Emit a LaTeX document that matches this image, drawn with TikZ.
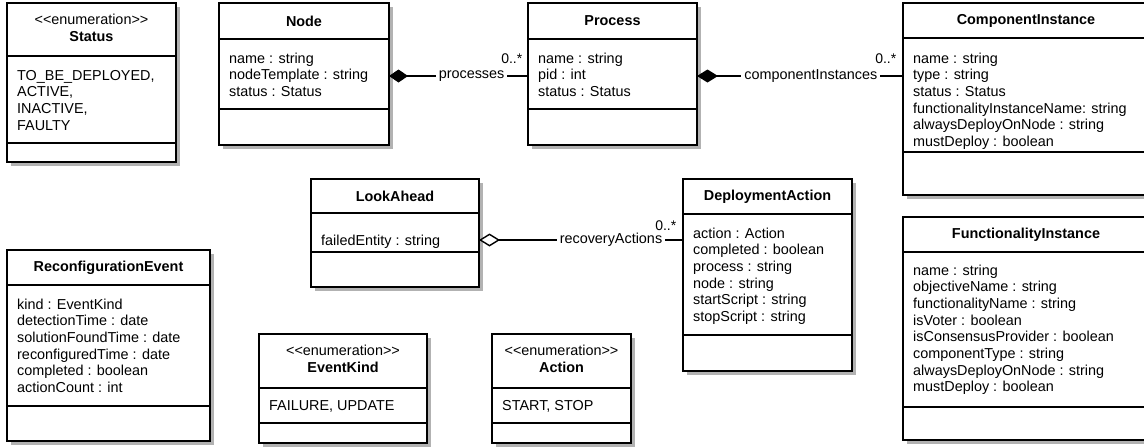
\documentclass[tikz,border=0pt]{standalone}
\usepackage{fontspec}
\setmainfont{Liberation Sans}
\usetikzlibrary{arrows.meta}
\newcommand{\umlframe}[7]{%
  \fill[shadowfill] (#2+4,#3+4) rectangle (#4+4,#5+4);
  \node[classbox, minimum width={(#4-#2)*1pt}, minimum height={(#5-#3)*1pt}] (#1) at ({(#2+#4)/2},{(#3+#5)/2}) {};
  \draw[divider] (#2,#6) -- (#4,#6);
  \draw[divider] (#2,#7) -- (#4,#7);
}
\newcommand{\attrs}[1]{\begin{tabular}[t]{@{}l@{}}#1\end{tabular}}
\newcommand{\enumtitle}[1]{\begin{tabular}{@{}c@{}}{\mdseries <\kern0pt<enumeration>\kern0pt>}\\#1\end{tabular}}
\tikzset{
  shadowfill/.style={fill=black!30},
  classbox/.style={draw=black, line width=2pt, fill=white, rectangle, inner sep=0pt, outer sep=0pt},
  divider/.style={draw=black, line width=2pt},
  titletext/.style={inner sep=0pt, font=\fontsize{14.4}{16.7}\selectfont\bfseries, align=center},
  attrtext/.style={inner sep=0pt, anchor=base west, font=\fontsize{14.4}{16.7}\selectfont},
  assoc/.style={draw=black, line width=1.4pt},
  lbl/.style={fill=white, inner xsep=3pt, inner ysep=1pt, font=\fontsize{14.4}{16.7}\selectfont},
  mult/.style={inner sep=0pt, anchor=base east, font=\fontsize{14}{16}\selectfont},
}
\begin{document}
\begin{tikzpicture}[x=1pt,y=-1pt]
\useasboundingbox (0,0) rectangle (1144,447);
\clip (0,0) rectangle (1144,447);

% Status
\umlframe{status}{7}{3}{176}{162}{56}{143}
\node[titletext] (status-t) at (91.5,29.5) {\enumtitle{Status}};
\node[attrtext] (status-a) at (17,80) {\attrs{TO\_BE\_DEPLOYED,\\ACTIVE,\\INACTIVE,\\FAULTY}};

% Node
\umlframe{nodebox}{219}{3}{389}{145}{39}{109}
\node[titletext] (node-t) at (304,21) {Node};
\node[attrtext] (node-a) at (229,63) {\attrs{name : string\\nodeTemplate : string\\status : Status}};

% Process
\umlframe{process}{528}{3}{697}{145}{39}{109}
\node[titletext] (process-t) at (612.5,21) {Process};
\node[attrtext] (process-a) at (538,63) {\attrs{name : string\\pid : int\\status : Status}};

% ComponentInstance
\umlframe{ci}{903}{3}{1149}{195}{38}{152}
\node[titletext] (ci-t) at (1026,20.5) {ComponentInstance};
\node[attrtext] (ci-a) at (913,63) {\attrs{name : string\\type : string\\status : Status\\functionalityInstanceName: string\\alwaysDeployOnNode : string\\mustDeploy : boolean}};

% FunctionalityInstance
\umlframe{fi}{903}{217}{1149}{440}{252}{407}
\node[titletext] (fi-t) at (1026,234.5) {FunctionalityInstance};
\node[attrtext] (fi-a) at (913,275) {\attrs{name : string\\objectiveName : string\\functionalityName : string\\isVoter : boolean\\isConsensusProvider : boolean\\componentType : string\\alwaysDeployOnNode : string\\mustDeploy : boolean}};

% LookAhead
\umlframe{lookahead}{311}{179}{479}{287}{213}{252}
\node[titletext] (la-t) at (395,196) {LookAhead};
\node[attrtext] (la-a) at (321,245) {\attrs{failedEntity : string}};

% DeploymentAction
\umlframe{da}{683}{179}{852}{371}{214}{335}
\node[titletext] (da-t) at (767.5,196.5) {DeploymentAction};
\node[attrtext] (da-a) at (693,238) {\attrs{action : Action\\completed : boolean\\process : string\\node : string\\startScript : string\\stopScript : string}};

% ReconfigurationEvent
\umlframe{re}{7}{250}{210}{441}{285}{406}
\node[titletext] (re-t) at (108.5,267.5) {ReconfigurationEvent};
\node[attrtext] (re-a) at (17,309) {\attrs{kind : EventKind\\detectionTime : date\\solutionFoundTime : date\\reconfiguredTime : date\\completed : boolean\\actionCount : int}};

% EventKind
\umlframe{eventkind}{259}{334}{427}{443}{387.5}{423}
\node[titletext] (ek-t) at (343,360.5) {\enumtitle{EventKind}};
\node[attrtext] (ek-a) at (269,410) {\attrs{FAILURE, UPDATE}};

% Action
\umlframe{action}{492}{334}{631}{443}{387.5}{423}
\node[titletext] (ac-t) at (561.5,360.5) {\enumtitle{Action}};
\node[attrtext] (ac-a) at (502,410) {\attrs{START, STOP}};

% connectors
\coordinate (c1) at ([yshift=-2pt]nodebox.east);
\draw[assoc, {Diamond[length=19pt,width=13pt]}-] (c1) -- (c1 -| process.west)
  node[lbl, pos=0.594] (l1) {processes}
  node[mult, pos=1, xshift=-5pt, yshift=13pt] (m1) {0..*};

\coordinate (c2) at ([yshift=-2pt]process.east);
\draw[assoc, {Diamond[length=21pt,width=13pt]}-] (c2) -- (c2 -| ci.west)
  node[lbl, pos=0.553] (l2) {componentInstances}
  node[mult, pos=1, xshift=-6pt, yshift=13pt] (m2) {0..*};

\coordinate (c3) at ([yshift=-7pt]lookahead.east);
\draw[assoc, {Diamond[open,fill=white,length=21pt,width=13pt]}-] (c3) -- (c3 -| da.west)
  node[lbl, pos=0.647] (l3) {recoveryActions}
  node[mult, pos=1, xshift=-6pt, yshift=10pt] (m3) {0..*};
\end{tikzpicture}
\end{document}
